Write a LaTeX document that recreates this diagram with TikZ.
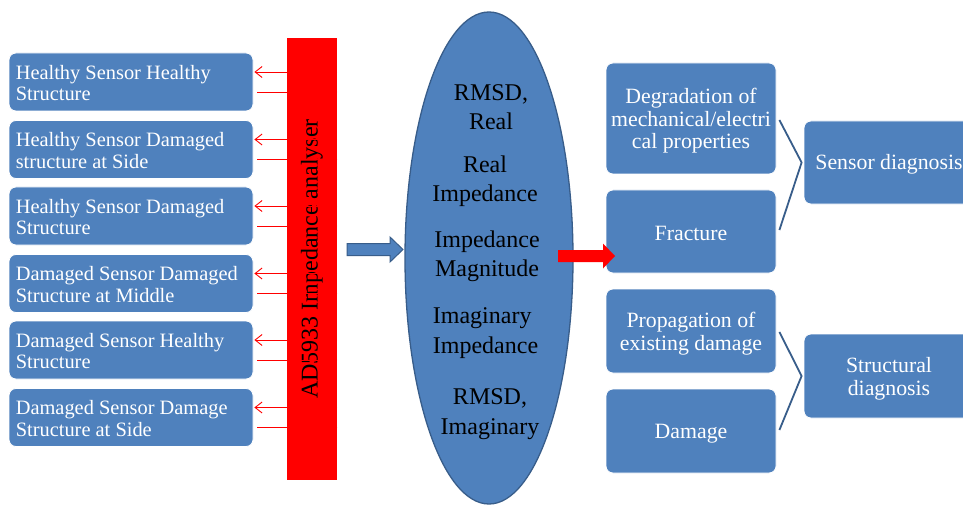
\documentclass[tikz,border=0pt]{standalone}
\usepackage{fontspec}
\setmainfont{Liberation Serif}
\usetikzlibrary{arrows.meta,shapes.geometric}
\definecolor{boxblue}{RGB}{79,129,189}
\definecolor{darkblue}{RGB}{56,93,138}
\tikzset{
  lbox/.style={draw=white, line width=0.8pt, fill=boxblue, rounded corners=7pt,
    minimum width=244pt, minimum height=58pt, inner sep=0pt},
  ltext/.style={align=left, text=white, inner sep=0pt, anchor=west, font=\fontsize{20.4}{21.5}\selectfont},
  rbox/.style={draw=white, line width=0.8pt, fill=boxblue, rounded corners=7pt,
    minimum width=170pt, inner sep=0pt},
  rtext/.style={align=center, text=white, inner sep=0pt, font=\fontsize{21.8}{22.6}\selectfont},
  etext/.style={align=center, text=black, inner sep=0pt, font=\fontsize{24}{29.3}\selectfont},
  redarr/.style={draw=red, line width=0.9pt, -{Straight Barb[length=7pt,width=11pt]}},
  bracket/.style={draw=darkblue, line width=1.8pt},
}
\begin{document}
\begin{tikzpicture}[x=1pt,y=-1pt]
\useasboundingbox (0,0) rectangle (963,505);
\fill[white] (0,0) rectangle (963,505);

% left boxes
\node[lbox] (b1) at (131,82)    {};
\node[lbox] (b2) at (131,149.5) {};
\node[lbox] (b3) at (131,216)   {};
\node[lbox] (b4) at (131,283.5) {};
\node[lbox] (b5) at (131,350)   {};
\node[lbox] (b6) at (131,417.5) {};
\node[ltext] (t1) at ([xshift=7pt,yshift=-1pt]b1.west) {Healthy Sensor Healthy\\Structure};
\node[ltext] (t2) at ([xshift=7pt,yshift=-1pt]b2.west) {Healthy Sensor Damaged\\structure at Side};
\node[ltext] (t3) at ([xshift=7pt,yshift=-1pt]b3.west) {Healthy Sensor Damaged\\Structure};
\node[ltext] (t4) at ([xshift=7pt,yshift=-1pt]b4.west) {Damaged Sensor Damaged\\Structure at Middle};
\node[ltext] (t5) at ([xshift=7pt,yshift=-1pt]b5.west) {Damaged Sensor Healthy\\Structure};
\node[ltext] (t6) at ([xshift=7pt,yshift=-1pt]b6.west) {Damaged Sensor Damage\\Structure at Side};

% analyser bar
\node[fill=red, minimum width=442pt, minimum height=50pt, inner sep=0pt, rotate=90,
  font=\fontsize{24}{28}\selectfont, text=black] (bar) at (312,259) {AD5933 Impedance analyser};

% red arrows
\foreach \b in {b1,b2,b3,b4,b5,b6}{
  \draw[redarr] ([yshift=10pt]\b.east -| bar.south) -- ([xshift=1pt,yshift=10pt]\b.east);
  \draw[redarr] ([xshift=4pt,yshift=-10pt]\b.east) -- ([yshift=-10pt]\b.east -| bar.south);
}

% ellipse
\node[draw=darkblue, line width=1.3pt, fill=boxblue, ellipse, minimum width=168pt,
  minimum height=492pt, inner sep=0pt] (ell) at (489,258) {};
\node[etext] (e1) at (491,107.5) {RMSD,\\Real};
\node[etext] (e2) at (485,181) {Real\\Impedance};
\node[etext] (e3) at (487,256) {Impedance\\Magnitude};
\node[etext, align=left] (e4) at (485.5,333) {Imaginary\\Impedance};
\node[etext] (e5) at (490,414) {RMSD,\\Imaginary};

% blue block arrow
\fill[boxblue, draw=darkblue, line width=1pt]
  (347,243.5) -- (390,243.5) -- (390,237) -- (403,249.5) -- (390,262) -- (390,255.5) -- (347,255.5) -- cycle;

% right boxes
\node[rbox, minimum height=111pt] (A) at (691,118.5) {};
\node[rbox, minimum height=83pt] (F) at (691,231.5) {};
\node[rbox, minimum height=84pt] (P) at (691,331) {};
\node[rbox, minimum height=84pt] (D) at (691,431) {};
\node[rbox, minimum height=83pt] (S) at (889,162.5) {};
\node[rbox, minimum height=84pt] (T) at (889,376) {};
\node[rtext] (At) at ([yshift=-2.5pt]A.center) {Degradation of\\mechanical/electri\\cal properties};
\node[rtext] (Ft) at ([yshift=-1.5pt]F.center) {Fracture};
\node[rtext] (Pt) at ([yshift=-2.5pt]P.center) {Propagation of\\existing damage};
\node[rtext] (Dt) at ([yshift=-2.5pt]D.center) {Damage};
\node[rtext] (St) at ([yshift=-2pt]S.center) {Sensor diagnosis};
\node[rtext] (Tt) at ([yshift=-2.5pt]T.center) {Structural\\diagnosis};

% red block arrow
\fill[red] (558,250) -- (603,250) -- (603,243.5) -- (615,256) -- (603,268.5) -- (603,262) -- (558,262) -- cycle;

% brackets
\draw[bracket] ([xshift=3pt,yshift=-1.5pt]A.east) -- ([xshift=-2pt]S.west) -- ([xshift=3pt,yshift=1.5pt]F.east);
\draw[bracket] ([xshift=3pt,yshift=-1pt]P.east) -- ([xshift=-2pt]T.west) -- ([xshift=3pt,yshift=1pt]D.east);
\end{tikzpicture}
\end{document}
